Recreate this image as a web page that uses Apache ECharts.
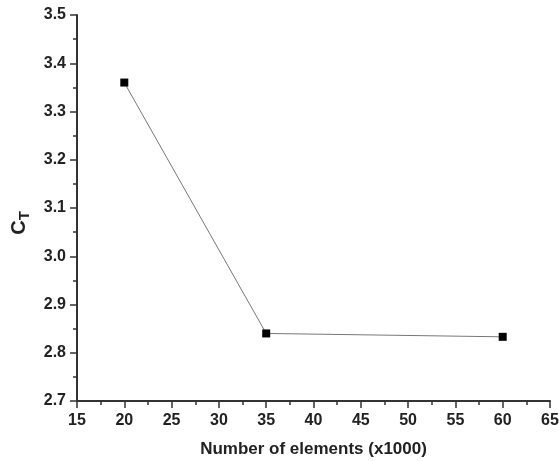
<!DOCTYPE html>
<html><head><meta charset="utf-8">
<script src="https://cdn.jsdelivr.net/npm/echarts@6/dist/echarts.min.js"></script>
<style>html,body{margin:0;padding:0;background:#fff}#c{width:559px;height:461px}</style>
</head><body><div id="c"></div>
<script>
const xValues = [20, 35, 60];
const ctValues = [3.36, 2.84, 2.833];
const xTicks = [15, 20, 25, 30, 35, 40, 45, 50, 55, 60, 65];
const yTicks = [2.7, 2.8, 2.9, 3.0, 3.1, 3.2, 3.3, 3.4, 3.5];

const chart = echarts.init(document.getElementById('c'));
const axisCol = '#333';
const font = 'Liberation Sans, Arial, sans-serif';
chart.setOption({
  animation: false,
  grid: {left: 77, right: 9, top: 15, bottom: 60, containLabel: false, outerBoundsMode: 'none'},
  xAxis: {
    type: 'value', min: 15, max: 65, interval: 5,
    name: 'Number of elements (x1000)', nameLocation: 'middle', nameGap: 40,
    nameTextStyle: {fontFamily: font, fontWeight: 'bold', fontSize: 17, color: '#222'},
    axisLine: {show: true, lineStyle: {color: axisCol, width: 2}},
    axisTick: {show: true, length: 7, lineStyle: {color: axisCol, width: 1.5}},
    minorTick: {show: true, splitNumber: 2, length: 4, lineStyle: {color: axisCol, width: 1.5}},
    splitLine: {show: false},
    axisLabel: {fontFamily: font, fontWeight: 'bold', fontSize: 16, color: '#222', margin: 12,
      formatter: v => xTicks.includes(v) ? String(v) : ''}
  },
  yAxis: {
    type: 'value', min: 2.7, max: 3.5, interval: 0.1,
    name: '{a|C}{b|T}', nameLocation: 'middle', nameGap: 44, nameRotate: 90,
    nameTextStyle: {padding: [0, 30, 0, 0], rich: {
      a: {fontFamily: font, fontWeight: 'bold', fontSize: 20, color: '#222'},
      b: {fontFamily: font, fontWeight: 'bold', fontSize: 15, color: '#222', padding: [12, 0, 0, 0]}
    }},
    axisLine: {show: true, lineStyle: {color: axisCol, width: 2}},
    axisTick: {show: true, length: 7, lineStyle: {color: axisCol, width: 1.5}},
    minorTick: {show: true, splitNumber: 2, length: 4, lineStyle: {color: axisCol, width: 1.5}},
    splitLine: {show: false},
    axisLabel: {fontFamily: font, fontWeight: 'bold', fontSize: 16, color: '#222', margin: 11,
      formatter: v => { const t = yTicks.find(y => Math.abs(y - v) < 1e-6); return t !== undefined ? t.toFixed(1) : ''; }}
  },
  series: [{
    type: 'line',
    data: xValues.map((x, i) => [x, ctValues[i]]),
    symbol: 'rect', symbolSize: 8,
    itemStyle: {color: '#000'},
    lineStyle: {color: '#777', width: 1}
  }]
});
</script></body></html>
